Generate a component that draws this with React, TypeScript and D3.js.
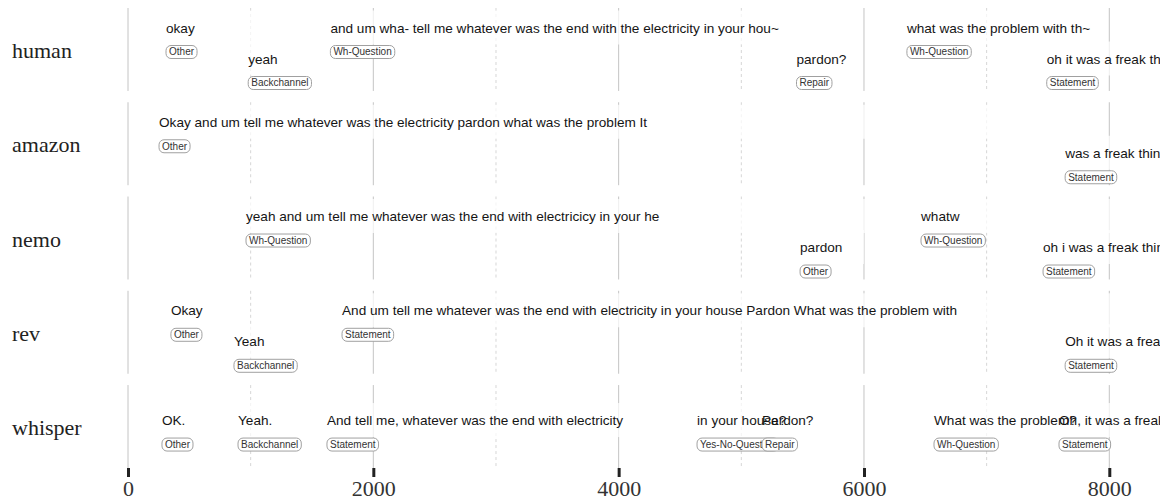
import React, { useEffect, useRef } from "react";
import * as d3 from "d3";

type Utt = { text: string; act: string; start: number; end: number };

const rows = ["human", "amazon", "nemo", "rev", "whisper"];
const majorTicks = [0, 2000, 4000, 6000, 8000];
const minorTicks = [1000, 3000, 5000, 7000];

const human: Utt[] = [
  { text: "okay", act: "Other", start: 310, end: 1100 },
  { text: "yeah", act: "Backchannel", start: 980, end: 1400 },
  { text: "and um wha- tell me whatever was the end with the electricity in your hou~", act: "Wh-Question", start: 1650, end: 5500 },
  { text: "pardon?", act: "Repair", start: 5450, end: 5900 },
  { text: "what was the problem with th~", act: "Wh-Question", start: 6350, end: 7600 },
  { text: "oh it was a freak thing", act: "Statement", start: 7490, end: 9000 },
];
const amazon: Utt[] = [
  { text: "Okay and um tell me whatever was the electricity pardon what was the problem It", act: "Other", start: 253, end: 7700 },
  { text: "was a freak thing", act: "Statement", start: 7640, end: 9000 },
];
const nemo: Utt[] = [
  { text: "yeah and um tell me whatever was the end with electricicy in your he", act: "Wh-Question", start: 962, end: 6300 },
  { text: "pardon", act: "Other", start: 5479, end: 6000 },
  { text: "whatw", act: "Wh-Question", start: 6465, end: 8100 },
  { text: "oh i was a freak thing", act: "Statement", start: 7460, end: 9000 },
];
const rev: Utt[] = [
  { text: "Okay", act: "Other", start: 350, end: 900 },
  { text: "Yeah", act: "Backchannel", start: 864, end: 1300 },
  { text: "And um tell me whatever was the end with electricity in your house Pardon What was the problem with", act: "Statement", start: 1745, end: 8200 },
  { text: "Oh it was a freak thing", act: "Statement", start: 7640, end: 9000 },
];
const whisper: Utt[] = [
  { text: "OK.", act: "Other", start: 277, end: 800 },
  { text: "Yeah.", act: "Backchannel", start: 897, end: 1500 },
  { text: "And tell me, whatever was the end with electricity", act: "Statement", start: 1622, end: 4500 },
  { text: "in your house?", act: "Yes-No-Question", start: 4639, end: 5100 },
  { text: "Pardon?", act: "Repair", start: 5169, end: 5600 },
  { text: "What was the problem?", act: "Wh-Question", start: 6571, end: 7500 },
  { text: "Oh, it was a freak thing.", act: "Statement", start: 7590, end: 9000 },
];
const rowUtterances: Utt[][] = [human, amazon, nemo, rev, whisper];

export default function App() {
  const ref = useRef<SVGSVGElement>(null);
  useEffect(() => {
    const svg = d3.select(ref.current);
    svg.selectAll("*").remove();
    const x = d3.scaleLinear().domain([0, 8000]).range([128, 1109.3]);
    const y = d3.scaleBand<string>().domain(rows).range([8, 468]).paddingInner(0.12);

    svg.append("defs").append("clipPath").attr("id", "clipR")
      .append("rect").attr("x", 0).attr("y", 0).attr("width", 1160).attr("height", 500);

    // grid
    rows.forEach((r) => {
      const top = y(r)!;
      const h = y.bandwidth();
      const g = svg.append("g");
      g.selectAll("line.minor").data(minorTicks).join("line")
        .attr("x1", (d) => x(d)).attr("x2", (d) => x(d))
        .attr("y1", top).attr("y2", top + h)
        .attr("stroke", "#d6d6d6").attr("stroke-width", 1)
        .attr("stroke-dasharray", "3,3");
      g.selectAll("line.major").data(majorTicks).join("line")
        .attr("x1", (d) => x(d)).attr("x2", (d) => x(d))
        .attr("y1", top).attr("y2", top + h)
        .attr("stroke", "#c4c4c4").attr("stroke-width", 1);
      svg.append("text").text(r)
        .attr("x", 12).attr("y", top + 50)
        .attr("font-family", "'Liberation Serif', 'Times New Roman', serif")
        .attr("font-size", 22).attr("fill", "#222");
    });

    // axis
    const axisG = svg.append("g").attr("transform", "translate(0,468)")
      .call(d3.axisBottom(x).tickValues(majorTicks).tickSize(9).tickPadding(3).tickFormat((d) => String(d)));
    axisG.select(".domain").remove();
    axisG.selectAll(".tick line").attr("stroke", "#222").attr("stroke-width", 3);
    axisG.selectAll(".tick text")
      .attr("font-family", "'Liberation Serif', 'Times New Roman', serif")
      .attr("font-size", 22).attr("fill", "#333");

    // utterances
    const layer = svg.append("g").attr("clip-path", "url(#clipR)");
    rows.forEach((r, i) => {
      const utts = rowUtterances[i];
      const bandEnds: number[] = [];
      const bands = utts.map((u) => {
        let b = bandEnds.findIndex((e) => e <= u.start);
        if (b < 0) { b = bandEnds.length; bandEnds.push(u.end); } else bandEnds[b] = u.end;
        return b;
      });
      const n = bandEnds.length;
      const base = (b: number) => y(r)! + 40 + (b - (n - 1) / 2) * 31;
      const g = layer.append("g");
      g.selectAll("rect.bg").data(utts).join("rect")
        .attr("x", (d) => x(d.start)).attr("width", (d) => x(d.end) - x(d.start))
        .attr("y", (d, k) => base(bands[k]) - 22).attr("height", 34)
        .attr("fill", "#fff").attr("opacity", 0.72);
      g.selectAll("text.utt").data(utts).join("text")
        .text((d) => d.text)
        .attr("x", (d) => x(d.start)).attr("y", (d, k) => base(bands[k]))
        .attr("font-family", "'Liberation Sans', Arial, sans-serif")
        .attr("font-size", 13.6).attr("fill", "#151515");
      utts.forEach((u, k) => {
        const lg = g.append("g")
          .attr("transform", `translate(${x(u.start)},${base(bands[k]) + 13})`);
        const rect = lg.append("rect").attr("y", 0).attr("height", 13).attr("rx", 5)
          .attr("fill", "#fff").attr("stroke", "#a0a0a0").attr("stroke-width", 1);
        const t = lg.append("text").text(u.act).attr("x", 3).attr("y", 9.8)
          .attr("font-family", "'Liberation Sans', Arial, sans-serif")
          .attr("font-size", 10).attr("fill", "#333");
        const w = (t.node() as SVGTextElement).getComputedTextLength();
        rect.attr("width", w + 6);
      });
    });
  }, []);
  return (
    <svg
      ref={ref}
      width={1164}
      height={500}
      style={{ position: "absolute", left: 0, top: 0, background: "#fff" }}
    />
  );
}
